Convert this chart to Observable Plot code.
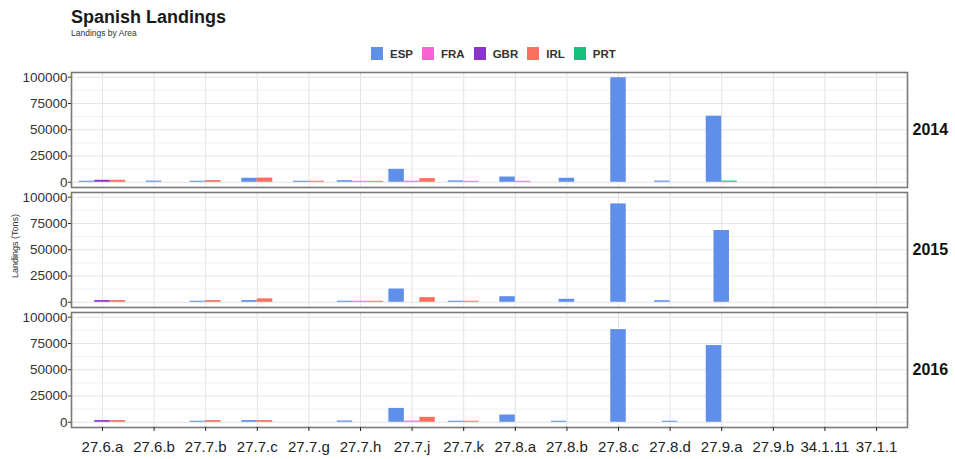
<!DOCTYPE html>
<html>
<head>
<meta charset="utf-8">
<script src="https://cdn.jsdelivr.net/npm/d3@7"></script>
<script src="https://cdn.jsdelivr.net/npm/@observablehq/plot@0.6"></script>
<style>
  body { margin: 0; background: #fff; font-family: "Liberation Sans", Arial, sans-serif; }
  #wrap { position: relative; width: 955px; height: 459px; overflow: hidden; }
  #head { position: relative; height: 62px; }
  #title { position: absolute; left: 71px; top: 7px; font-size: 18px; font-weight: bold; color: #1a1a1a; }
  #subtitle { position: absolute; left: 71px; top: 28px; font-size: 8.5px; color: #333; }
  #legend { position: absolute; left: 371px; top: 47px; display: flex; align-items: center; }
  .item { display: flex; align-items: center; margin-right: 9px; font-size: 11.5px; font-weight: bold; color: #333; }
  .sw { width: 12px; height: 13px; margin-right: 7px; }
  #ylab { position: absolute; left: 15px; top: 246px; transform: translate(-50%, -50%) rotate(-90deg); font-size: 9px; color: #333; white-space: nowrap; }
  #chart svg { display: block; }
</style>
</head>
<body>
<div id="wrap">
  <div id="head">
    <div id="title">Spanish Landings</div>
    <div id="subtitle">Landings by Area</div>
    <div id="legend"></div>
  </div>
  <div id="ylab">Landings (Tons)</div>
  <div id="chart"></div>
</div>
<script>
// ---- data ----
const areas = ["27.6.a","27.6.b","27.7.b","27.7.c","27.7.g","27.7.h","27.7.j","27.7.k",
               "27.8.a","27.8.b","27.8.c","27.8.d","27.9.a","27.9.b","34.1.11","37.1.1"];
const countries = ["ESP","FRA","GBR","IRL","PRT"];
const countryColors = ["#5f8fe8","#f962d2","#8b33cc","#f8705f","#17bf7e"];
const years = ["2014","2015","2016"];
const yTicks = [0, 25000, 50000, 75000, 100000];
const yMinorTicks = [12500, 37500, 62500, 87500];

// [area, country, tons]
const landings2014 = [
  ["27.6.a","ESP",1000],["27.6.a","GBR",1900],["27.6.a","IRL",1900],
  ["27.6.b","ESP",1100],
  ["27.7.b","ESP",1000],["27.7.b","IRL",1600],
  ["27.7.c","ESP",3800],["27.7.c","IRL",4000],
  ["27.7.g","ESP",1000],["27.7.g","IRL",1000],
  ["27.7.h","ESP",1500],["27.7.h","FRA",900],["27.7.h","IRL",900],
  ["27.7.j","ESP",12300],["27.7.j","FRA",1000],["27.7.j","IRL",3500],
  ["27.7.k","ESP",1300],["27.7.k","FRA",900],
  ["27.8.a","ESP",5000],["27.8.a","FRA",900],
  ["27.8.b","ESP",3800],
  ["27.8.c","ESP",99500],
  ["27.8.d","ESP",1100],["27.8.d","IRL",0],
  ["27.9.a","ESP",62900],["27.9.a","PRT",1100]
];
const landings2015 = [
  ["27.6.a","ESP",0],["27.6.a","GBR",1600],["27.6.a","IRL",1600],
  ["27.7.b","ESP",1000],["27.7.b","IRL",1600],
  ["27.7.c","ESP",1600],["27.7.c","IRL",3200],
  ["27.7.h","ESP",1000],["27.7.h","FRA",1000],["27.7.h","IRL",1000],
  ["27.7.j","ESP",12600],["27.7.j","FRA",0],["27.7.j","IRL",4400],
  ["27.7.k","ESP",1000],["27.7.k","IRL",1000],
  ["27.8.a","ESP",5300],["27.8.a","FRA",0],
  ["27.8.b","ESP",2800],
  ["27.8.c","ESP",93600],
  ["27.8.d","ESP",1500],["27.8.d","IRL",0],
  ["27.9.a","ESP",68300]
];
const landings2016 = [
  ["27.6.a","ESP",0],["27.6.a","GBR",1600],["27.6.a","IRL",1600],
  ["27.7.b","ESP",1000],["27.7.b","IRL",1600],
  ["27.7.c","ESP",1600],["27.7.c","IRL",1600],
  ["27.7.h","ESP",1200],["27.7.h","FRA",0],["27.7.h","IRL",0],
  ["27.7.j","ESP",13200],["27.7.j","FRA",1100],["27.7.j","IRL",4700],
  ["27.7.k","ESP",1000],["27.7.k","IRL",1000],
  ["27.8.a","ESP",6900],["27.8.a","FRA",0],
  ["27.8.b","ESP",1000],["27.8.b","FRA",0],
  ["27.8.c","ESP",88200],
  ["27.8.d","ESP",1000],
  ["27.9.a","ESP",73000],["27.9.a","PRT",0]
];

// ---- dodge (like ggplot position_dodge(preserve = "single"), width 0.9) ----
const byYear = [[years[0], landings2014], [years[1], landings2015], [years[2], landings2016]];
let maxN = 0;
for (const [, list] of byYear) for (const [, g] of d3.group(list, d => d[0])) maxN = Math.max(maxN, g.length);
const slot = 0.9 / maxN;
const rows = [];
for (const [year, list] of byYear) {
  for (const [area, g] of d3.group(list, d => d[0])) {
    const sorted = g.slice().sort((a, b) => countries.indexOf(a[1]) - countries.indexOf(b[1]));
    const n = sorted.length;
    sorted.forEach(([a, c, t], i) => {
      const center = areas.indexOf(a) + 1 + (i - (n - 1) / 2) * slot;
      rows.push({year, area: a, country: c, tons: t, x1: center - slot / 2, x2: center + slot / 2});
    });
  }
}
const M = d3.max(rows, d => d.tons);
const areaIdx = d3.range(1, areas.length + 1);

// ---- legend ----
const leg = document.getElementById("legend");
countries.forEach((c, i) => {
  const it = document.createElement("div");
  it.className = "item";
  it.innerHTML = `<span class="sw" style="background:${countryColors[i]}"></span><span>${c}</span>`;
  leg.appendChild(it);
});

// ---- chart ----
const chart = Plot.plot({
  width: 955,
  height: 397,
  marginTop: 10,
  marginBottom: 32,
  marginLeft: 71,
  marginRight: 48,
  style: {fontFamily: "'Liberation Sans', Arial, sans-serif", background: "white", color: "#333"},
  x: {type: "linear", domain: [0.4, areas.length + 0.6]},
  y: {domain: [-0.05 * M, 1.05 * M]},
  fy: {domain: years, paddingInner: 0.042, paddingOuter: 0},
  color: {domain: countries, range: countryColors},
  marks: [
    Plot.gridY({ticks: yMinorTicks, stroke: "#f1f1f1", strokeOpacity: 1}),
    Plot.gridY({ticks: yTicks, stroke: "#e4e4e4", strokeOpacity: 1}),
    Plot.gridX({ticks: areaIdx, stroke: "#e4e4e4", strokeOpacity: 1}),
    Plot.rectY(rows, {x1: "x1", x2: "x2", y1: 0, y2: "tons", fy: "year", fill: "country"}),
    Plot.frame({stroke: "#7a7a7a", strokeWidth: 1.6}),
    Plot.axisY({ticks: yTicks, tickFormat: d3.format("d"), tickSize: 3, tickPadding: 1, fontSize: 13.5, label: null, color: "#333"}),
    Plot.axisX({ticks: areaIdx, tickFormat: i => areas[i - 1], tickSize: 4, tickPadding: 10, fontSize: 15, label: null, color: "#222"}),
    Plot.axisFy({anchor: "right", tickSize: 0, tickPadding: 5, fontSize: 16, fontWeight: "bold", label: null, color: "#111"})
  ]
});
document.getElementById("chart").appendChild(chart);
</script>
</body>
</html>
